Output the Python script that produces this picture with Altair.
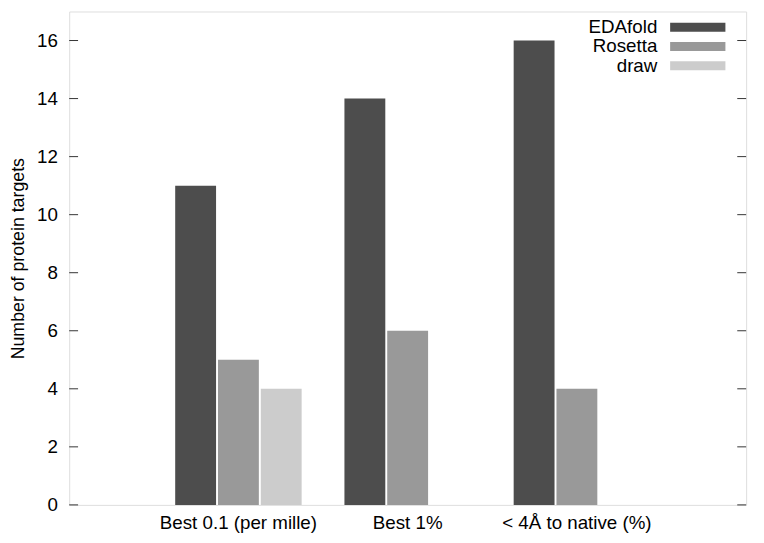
import altair as alt
import pandas as pd

# ---- data ----
groups = ["Best 0.1 (per mille)", "Best 1%", "< 4Å to native (%)"]
series = ["EDAfold", "Rosetta", "draw"]
edafold = [11, 14, 16]
rosetta = [5, 6, 4]
draw = [4, 0, 0]
colors = ["#4d4d4d", "#999999", "#cccccc"]
y_ticks = [0, 2, 4, 6, 8, 10, 12, 14, 16]

rows = []
for name, vals in zip(series, [edafold, rosetta, draw]):
    for g, v in zip(groups, vals):
        rows.append({"group": g, "series": name, "count": v})
df = pd.DataFrame(rows)
ticks_df = pd.DataFrame({"count": y_ticks})
legend_df = pd.DataFrame({"series": series})

FONT = "Liberation Sans"
FS = 19
W, H = 686, 500

color_scale = alt.Scale(domain=series, range=colors)
y_scale = alt.Scale(domain=[0, 17], nice=False, zero=True)

bars = alt.Chart(df).mark_bar(strokeWidth=0).encode(
    x=alt.X("group:N", sort=groups,
            scale=alt.Scale(paddingInner=0, paddingOuter=0.5),
            axis=alt.Axis(title=None, labelAngle=0, ticks=False, domain=False,
                          labelFontSize=FS, labelFont=FONT, labelColor="#000000",
                          labelPadding=9)),
    xOffset=alt.XOffset("series:N", sort=series,
                        scale=alt.Scale(paddingOuter=0.5, paddingInner=0.045)),
    y=alt.Y("count:Q", scale=y_scale,
            axis=alt.Axis(title="Number of protein targets", values=y_ticks,
                          ticks=False, domain=False, grid=False,
                          labelFontSize=FS, labelFont=FONT, labelColor="#000000",
                          labelPadding=12, titleFontSize=18, titleFont=FONT,
                          titleFontWeight="normal", titleColor="#000000",
                          titleX=-42)),
    color=alt.Color("series:N", scale=color_scale, legend=None),
)

ticks_left = alt.Chart(ticks_df).mark_rule(color="#333333", strokeWidth=1).encode(
    y=alt.Y("count:Q", scale=y_scale,
            axis=alt.Axis(title="Number of protein targets")),
    x=alt.value(0), x2=alt.value(9),
)
ticks_right = alt.Chart(ticks_df).mark_rule(color="#333333", strokeWidth=1).encode(
    y=alt.Y("count:Q", scale=y_scale,
            axis=alt.Axis(title="Number of protein targets")),
    x=alt.value(W - 9), x2=alt.value(W),
)

main = alt.layer(bars, ticks_left, ticks_right)

leg_y = alt.Y("series:N", sort=series,
              scale=alt.Scale(type="point", range=[16, 55], padding=0),
              axis=None)
leg_sw = alt.Chart(legend_df).mark_rule(strokeWidth=9, strokeCap="butt").encode(
    y=leg_y,
    x=alt.value(609), x2=alt.value(665),
    color=alt.Color("series:N", scale=color_scale, legend=None),
)
leg_txt = alt.Chart(legend_df).mark_text(
    align="right", baseline="middle", fontSize=FS, font=FONT, color="#000000"
).encode(
    y=leg_y,
    x=alt.value(596),
    text="series:N",
)
legend = alt.layer(leg_sw, leg_txt)

chart = alt.layer(main, legend).resolve_scale(y="independent").properties(
    width=W, height=H,
    autosize=alt.AutoSizeParams(type="none"),
    padding={"left": 62, "top": 0, "right": 10, "bottom": 30},
).configure_view(
    stroke="#333333", strokeWidth=1
).configure(background="white")

chart.save("out.html", embed_options={"renderer": "svg", "actions": False})
